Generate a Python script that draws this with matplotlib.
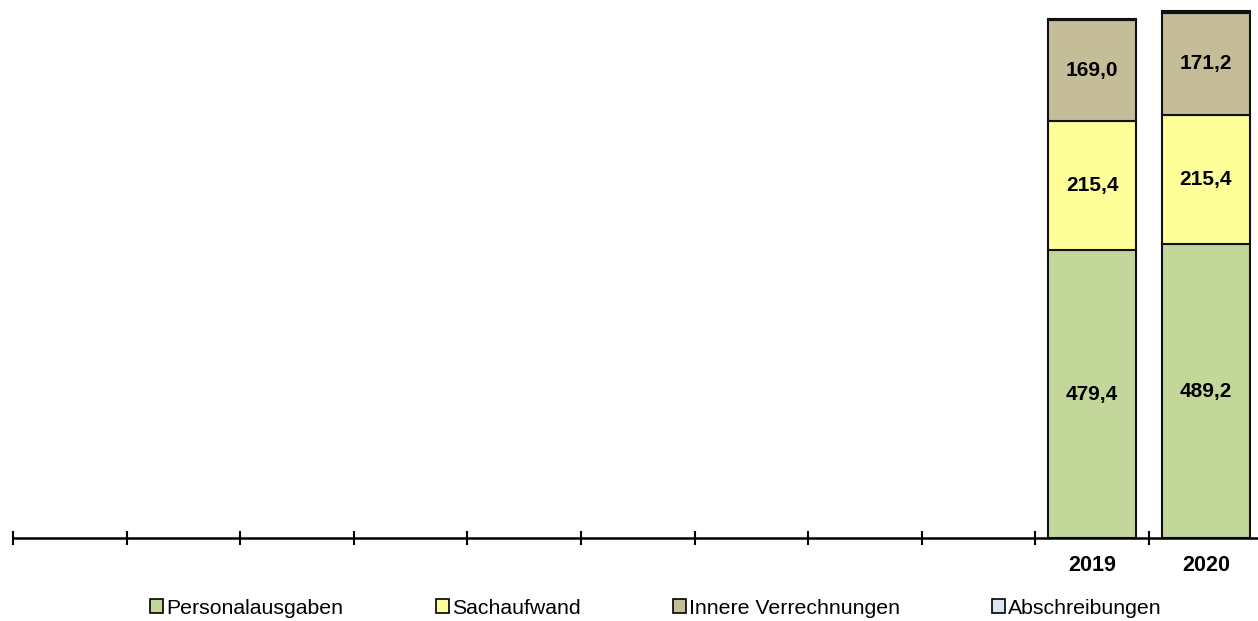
#!/usr/bin/env python3

import numpy
import matplotlib
matplotlib.use("Agg")
import matplotlib.pyplot as pyplot
from matplotlib.patches import Patch

FIG_SIZE = (12.58, 6.21)
DPI = 100

numSlots = 11
years = ["2019", "2020"]
slotIndex = [9, 10]

series = ["Personalausgaben", "Sachaufwand", "Innere Verrechnungen", "Abschreibungen"]
colors = ["#C4D79B", "#FFFF99", "#C4BD97", "#DCE6F2"]
personal = [479.4, 489.2]
sachaufwand = [215.4, 215.4]
verrechnungen = [169.0, 171.2]
abschreibungen = [2.0, 3.0]
values = [personal, sachaufwand, verrechnungen, abschreibungen]
showLabel = [True, True, True, False]

pyplot.rcParams["font.family"] = ["Liberation Sans", "DejaVu Sans"]

figure = pyplot.figure(figsize=FIG_SIZE, dpi=DPI)
W, H = FIG_SIZE[0]*DPI, FIG_SIZE[1]*DPI
left, right, bottom, top = 13, 1258, 538, 0
ax = figure.add_axes([left/W, (H-bottom)/H, (right-left)/W, (bottom-top)/H])

slotPx = 113.6
ax.set_xlim(-0.5, -0.5 + (right-left)/slotPx)
ax.set_ylim(0, (bottom-top)/0.6)

barWidth = 0.775
base = numpy.zeros(len(years))
for name, vals, color, label in zip(series, values, colors, showLabel):
    vals = numpy.array(vals)
    ax.bar(slotIndex, vals, barWidth, bottom=base, color=color,
           edgecolor="#111111", linewidth=1.5, zorder=2)
    if label:
        for x, b, v in zip(slotIndex, base, vals):
            ax.text(x, b + v/2, f"{v:.1f}".replace(".", ","), ha="center",
                    va="center", fontsize=15, fontweight="bold", zorder=3)
    base += vals

for side in ["top", "right", "left"]:
    ax.spines[side].set_visible(False)
ax.spines["bottom"].set_linewidth(1.8)
ax.spines["bottom"].set_zorder(4)
ax.set_yticks([])

ax.set_xticks(numpy.arange(numSlots) - 0.5)
ax.set_xticklabels([])
ax.tick_params(axis="x", which="major", direction="inout", length=10, width=1.5)
ax.set_xticks(slotIndex, minor=True)
ax.set_xticklabels(years, minor=True, fontsize=15.5, fontweight="bold")
ax.tick_params(axis="x", which="minor", length=0, pad=12)

handles = [Patch(facecolor=c, edgecolor="black", linewidth=1.2) for c in colors]
figure.legend(handles, series, loc="center", bbox_to_anchor=(0.5215, 1 - 608/H),
              ncol=4, frameon=False, fontsize=15.3, handlelength=0.6,
              handleheight=0.6, handletextpad=0.15, columnspacing=4.35)

figure.savefig("out.png", dpi=DPI)
